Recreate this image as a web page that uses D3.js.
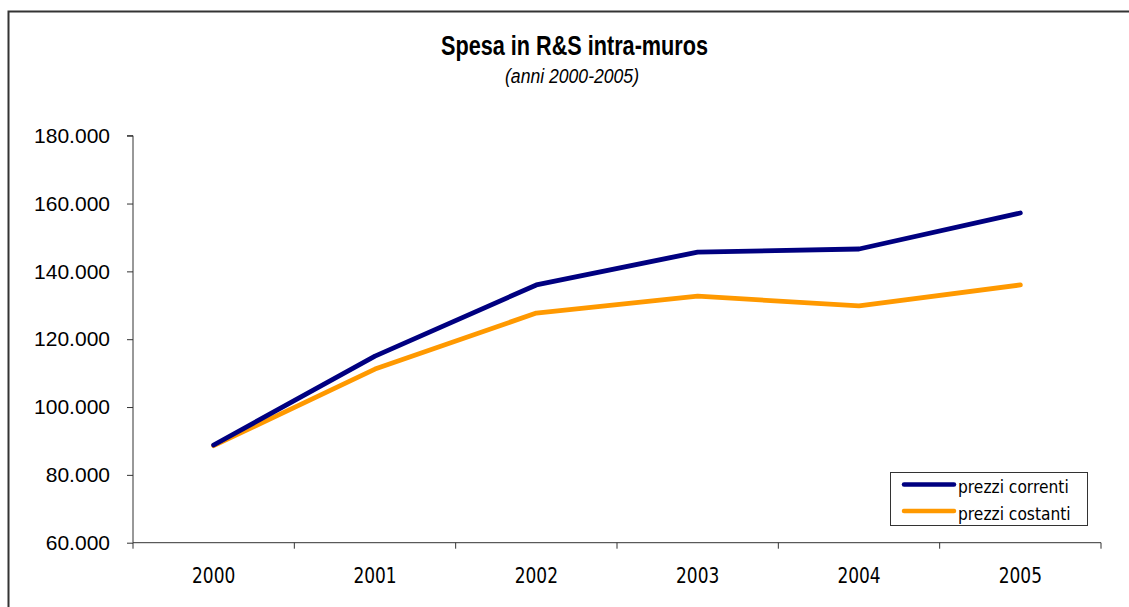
<!DOCTYPE html>
<html>
<head>
<meta charset="utf-8">
<script src="https://d3js.org/d3.v7.min.js"></script>
<style>
  body { margin: 0; background: #fff; }
  svg { display: block; }
</style>
</head>
<body>
<div id="chart"></div>
<script>
// chart data
const years = ["2000", "2001", "2002", "2003", "2004", "2005"];
const correnti = [88800, 115000, 136000, 145700, 146600, 157200];
const costanti = [88600, 111200, 127700, 132700, 129800, 136000];
const yTicks = [60000, 80000, 100000, 120000, 140000, 160000, 180000];
const seriesNames = ["prezzi correnti", "prezzi costanti"];

const W = 1129, H = 607;
const plotL = 133, plotR = 1101, plotT = 135.7, plotB = 542.7;

const svg = d3.select("#chart").append("svg")
    .attr("width", W)
    .attr("height", H);

// outer frame
svg.append("rect")
    .attr("x", 8.5).attr("y", 11.5)
    .attr("width", W + 20).attr("height", H + 20)
    .attr("fill", "none")
    .attr("stroke", "#333")
    .attr("stroke-width", 2);

// title
svg.append("text")
    .attr("x", 574.5).attr("y", 55)
    .attr("text-anchor", "middle")
    .attr("textLength", 267)
    .attr("lengthAdjust", "spacingAndGlyphs")
    .style("font-family", "'Liberation Sans Narrow', 'Liberation Sans', Arial, sans-serif")
    .style("font-weight", "bold")
    .style("font-size", "28px")
    .text("Spesa in R&S intra-muros");

svg.append("text")
    .attr("x", 572).attr("y", 82.5)
    .attr("text-anchor", "middle")
    .attr("textLength", 134)
    .attr("lengthAdjust", "spacingAndGlyphs")
    .style("font-family", "'Liberation Sans Narrow', 'Liberation Sans', Arial, sans-serif")
    .style("font-style", "italic")
    .style("font-size", "20px")
    .text("(anni 2000-2005)");

const x = d3.scaleBand().domain(years).range([plotL, plotR]).padding(0);
const y = d3.scaleLinear().domain([60000, 180000]).range([plotB, plotT]);
const fmt = v => d3.format(",")(v).replace(/,/g, ".");

// y axis
const yAxis = svg.append("g")
    .attr("transform", `translate(${plotL},0)`)
    .call(d3.axisLeft(y).tickValues(yTicks).tickSize(6).tickPadding(17).tickFormat(fmt));
yAxis.select(".domain").attr("stroke", "#333").attr("d", `M-6,${plotT}H0V${plotB}`);
yAxis.selectAll(".tick line").attr("stroke", "#333");
yAxis.selectAll(".tick text")
    .style("font-family", "'Liberation Sans', Arial, sans-serif")
    .style("font-size", "21px")
    .attr("fill", "#000");

// x axis: ticks at band boundaries, labels at centres
const xAxis = svg.append("g").attr("transform", `translate(0,${plotB})`);
xAxis.append("path")
    .attr("d", `M${plotL},0H${plotR}`)
    .attr("stroke", "#333").attr("fill", "none");
const bounds = years.map(d => x(d)).concat([plotR]);
xAxis.selectAll("line.bt").data(bounds).join("line")
    .attr("class", "bt")
    .attr("x1", d => d).attr("x2", d => d)
    .attr("y1", 0).attr("y2", 6)
    .attr("stroke", "#333");
xAxis.selectAll("text.xl").data(years).join("text")
    .attr("class", "xl")
    .attr("transform", d => `translate(${x(d) + x.bandwidth() / 2},40.5) scale(1,1.25)`)
    .attr("text-anchor", "middle")
    .style("font-family", "'DejaVu Sans', Verdana, sans-serif")
    .style("font-size", "17px")
    .text(d => d);

// lines
const line = d3.line()
    .x((d, i) => x(years[i]) + x.bandwidth() / 2)
    .y(d => y(d));

svg.append("path").datum(costanti)
    .attr("d", line)
    .attr("fill", "none")
    .attr("stroke", "#FF9900")
    .attr("stroke-width", 4.8)
    .attr("stroke-linejoin", "round")
    .attr("stroke-linecap", "round");

svg.append("path").datum(correnti)
    .attr("d", line)
    .attr("fill", "none")
    .attr("stroke", "#000080")
    .attr("stroke-width", 4.8)
    .attr("stroke-linejoin", "round")
    .attr("stroke-linecap", "round");

// legend
const lg = svg.append("g");
lg.append("rect")
    .attr("x", 890.5).attr("y", 472.5)
    .attr("width", 197).attr("height", 53)
    .attr("fill", "#fff")
    .attr("stroke", "#333");
const colors = ["#000080", "#FF9900"];
seriesNames.forEach((name, i) => {
    const ly = 484.5 + i * 26.5;
    lg.append("line")
        .attr("x1", 904).attr("x2", 954)
        .attr("y1", ly).attr("y2", ly)
        .attr("stroke", colors[i])
        .attr("stroke-width", 4.5)
        .attr("stroke-linecap", "round");
    lg.append("text")
        .attr("transform", `translate(958,${ly + 8.5}) scale(1,1.15)`)
        .style("font-family", "'DejaVu Sans', Verdana, sans-serif")
        .style("font-size", "15.5px")
        .text(name);
});
</script>
</body>
</html>
